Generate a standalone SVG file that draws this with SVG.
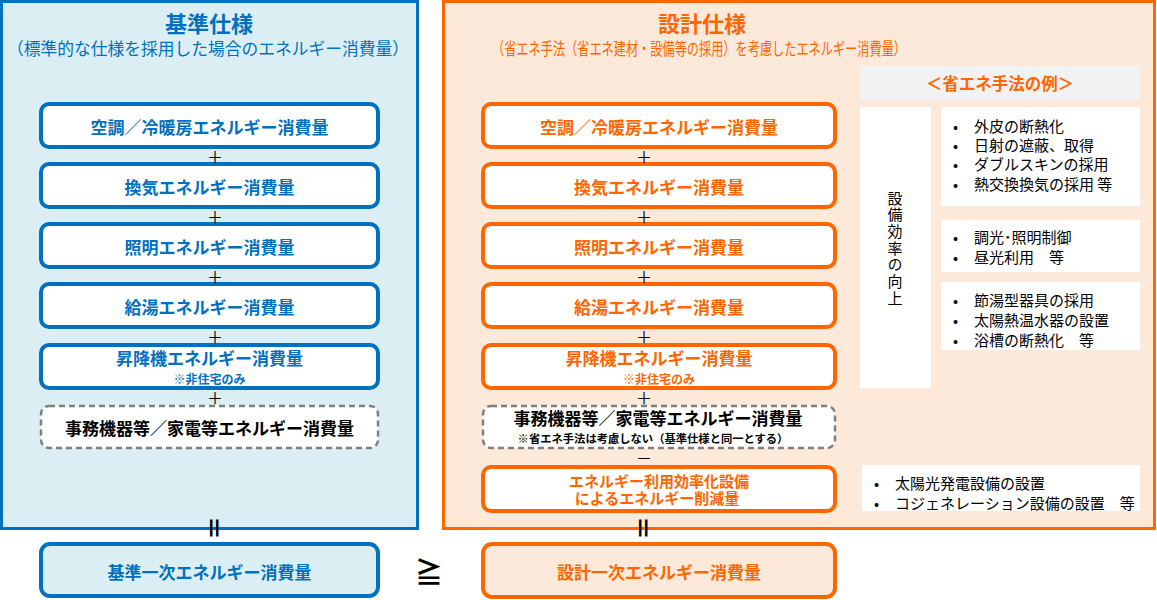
<svg xmlns="http://www.w3.org/2000/svg" width="1157" height="600" viewBox="0 0 1157 600">
<style>
text{font-family:"Noto Sans CJK JP","Noto Sans",sans-serif;dominant-baseline:central;text-anchor:middle}
.b{font-weight:bold}
.blue{fill:#0070C0}
.org{fill:#FF6600}
.blk{fill:#000}
.ib{fill:#fff;stroke:#0070C0;stroke-width:4}
.io{fill:#fff;stroke:#FF6600;stroke-width:4}
.dash{fill:#fff;stroke:#7F7F7F;stroke-width:2.5;stroke-dasharray:6 4}
.lbl{font-size:17px;font-weight:bold}
.note{font-size:12px;font-weight:bold}
.wb{fill:#fff}
.bl{font-size:15px;fill:#000;text-anchor:start}
.op{font-size:16px;fill:#000}
</style>
<g id="left-panel">
<rect x="1.5" y="1.5" width="416" height="527" fill="#DAEEF3" stroke="#0070C0" stroke-width="3"/>
<text x="209" y="22" class="b blue" style="font-size:22px">基準仕様</text>
<text x="208" y="47" class="blue" style="font-size:17px" textLength="402" lengthAdjust="spacingAndGlyphs">（標準的な仕様を採用した場合のエネルギー消費量）</text>
</g>
<g id="right-panel">
<rect x="443.5" y="1.5" width="711" height="527" fill="#FDE9DA" stroke="#FF6600" stroke-width="3"/>
<text x="702" y="22" class="b org" style="font-size:22px">設計仕様</text>
<text x="699" y="47" class="org" style="font-size:17px" textLength="414" lengthAdjust="spacingAndGlyphs">（省エネ手法（省エネ建材・設備等の採用）を考慮したエネルギー消費量）</text>
</g>
<g id="L1"><rect x="41" y="104" width="337" height="43" rx="8" class="ib"/><text x="209.5" y="126" class="lbl blue">空調／冷暖房エネルギー消費量</text></g>
<g id="L2"><rect x="41" y="164" width="337" height="43" rx="8" class="ib"/><text x="209.5" y="186" class="lbl blue">換気エネルギー消費量</text></g>
<g id="L3"><rect x="41" y="224" width="337" height="43" rx="8" class="ib"/><text x="209.5" y="246" class="lbl blue">照明エネルギー消費量</text></g>
<g id="L4"><rect x="41" y="284" width="337" height="43" rx="8" class="ib"/><text x="209.5" y="306" class="lbl blue">給湯エネルギー消費量</text></g>
<g id="L5"><rect x="41" y="345" width="337" height="43" rx="8" class="ib"/><text x="209.5" y="357" class="lbl blue">昇降機エネルギー消費量</text><text x="209.5" y="378" class="note blue">※非住宅のみ</text></g>
<g id="L6"><rect x="41" y="406" width="337" height="42" rx="8" class="dash"/><text x="209.5" y="427" class="lbl blk">事務機器等／家電等エネルギー消費量</text></g>
<g id="LB"><rect x="41" y="544" width="337" height="52" rx="9" fill="#DAEEF3" stroke="#0070C0" stroke-width="4"/><text x="209.5" y="571" class="lbl blue">基準一次エネルギー消費量</text></g>
<g id="R1"><rect x="483" y="104" width="352" height="43" rx="8" class="io"/><text x="659" y="126" class="lbl org">空調／冷暖房エネルギー消費量</text></g>
<g id="R2"><rect x="483" y="164" width="352" height="43" rx="8" class="io"/><text x="659" y="186" class="lbl org">換気エネルギー消費量</text></g>
<g id="R3"><rect x="483" y="224" width="352" height="43" rx="8" class="io"/><text x="659" y="246" class="lbl org">照明エネルギー消費量</text></g>
<g id="R4"><rect x="483" y="284" width="352" height="43" rx="8" class="io"/><text x="659" y="306" class="lbl org">給湯エネルギー消費量</text></g>
<g id="R5"><rect x="483" y="345" width="352" height="43" rx="8" class="io"/><text x="659" y="357" class="lbl org">昇降機エネルギー消費量</text><text x="659" y="378" class="note org">※非住宅のみ</text></g>
<g id="R6"><rect x="483" y="406" width="352" height="42" rx="8" class="dash"/><text x="658" y="417" class="lbl blk">事務機器等／家電等エネルギー消費量</text><text x="653" y="438" class="blk b" style="font-size:11.3px">※省エネ手法は考慮しない（基準仕様と同一とする）</text></g>
<g id="R7"><rect x="483" y="467" width="352" height="44" rx="8" class="io"/><text x="659" y="480" class="b org" style="font-size:15px">エネルギー利用効率化設備</text><text x="657" y="497.5" class="b org" style="font-size:15px">によるエネルギー削減量</text></g>
<g id="RB"><rect x="483" y="544" width="352" height="53" rx="9" fill="#FDE9DA" stroke="#FF6600" stroke-width="4"/><text x="659" y="571" class="lbl org">設計一次エネルギー消費量</text></g>
<g id="examples">
<rect x="860" y="66" width="280" height="35" fill="#F2F2F2"/>
<text x="1000" y="83" class="b org" style="font-size:16.5px">＜省エネ手法の例＞</text>
<rect x="860" y="107" width="71" height="281" class="wb"/>
<text x="895" y="190.5" class="blk" style="font-size:15px;writing-mode:vertical-rl;text-anchor:start;letter-spacing:1.7px">設備効率の向上</text>
<rect x="941" y="107" width="199" height="99" class="wb"/>
<text class="bl"><tspan x="953" y="125">•</tspan><tspan x="974" y="125">外皮の断熱化</tspan><tspan x="953" y="144">•</tspan><tspan x="974" y="144">日射の遮蔽、取得</tspan><tspan x="953" y="163">•</tspan><tspan x="974" y="163">ダブルスキンの採用</tspan><tspan x="953" y="183">•</tspan><tspan x="974" y="183">熱交換換気の採用 等</tspan></text>
<rect x="941" y="220" width="199" height="52" class="wb"/>
<text class="bl"><tspan x="953" y="236">•</tspan><tspan x="974" y="236">調光･照明制御</tspan><tspan x="953" y="256">•</tspan><tspan x="974" y="256">昼光利用　等</tspan></text>
<rect x="941" y="282" width="199" height="68" class="wb"/>
<text class="bl"><tspan x="953" y="299">•</tspan><tspan x="974" y="299">節湯型器具の採用</tspan><tspan x="953" y="319">•</tspan><tspan x="974" y="319">太陽熱温水器の設置</tspan><tspan x="953" y="339">•</tspan><tspan x="974" y="339">浴槽の断熱化　等</tspan></text>
<rect x="862" y="465" width="278" height="46" class="wb"/>
<text class="bl"><tspan x="874" y="482">•</tspan><tspan x="895" y="482">太陽光発電設備の設置</tspan><tspan x="874" y="502">•</tspan><tspan x="895" y="502">コジェネレーション設備の設置　等</tspan></text>
</g>
<g id="connectors">
<text x="215" y="156" class="op">＋</text>
<text x="215" y="216" class="op">＋</text>
<text x="215" y="276" class="op">＋</text>
<text x="215" y="336" class="op">＋</text>
<text x="215" y="397" class="op">＋</text>
<text x="644" y="156" class="op">＋</text>
<text x="644" y="216" class="op">＋</text>
<text x="644" y="276" class="op">＋</text>
<text x="644" y="336" class="op">＋</text>
<text x="644" y="397" class="op">＋</text>
<text x="644" y="457" class="op">－</text>
<text x="0" y="0" class="op b" style="font-size:24px" transform="translate(215 528) rotate(90)">＝</text>
<text x="0" y="0" class="op b" style="font-size:24px" transform="translate(644 528) rotate(90)">＝</text>
<text x="429" y="571" class="op b" style="font-size:28px">≧</text>
</g>
</svg>
